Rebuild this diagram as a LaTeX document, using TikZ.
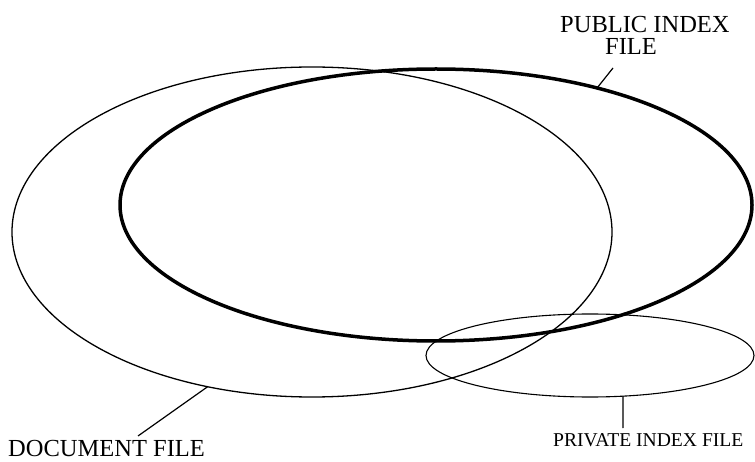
\documentclass[tikz,border=0pt]{standalone}
\usepackage{fontspec}
\setmainfont{Liberation Serif}
\usetikzlibrary{shapes.geometric}
\begin{document}
\begin{tikzpicture}[x=1pt,y=-1pt,
  setring/.style={ellipse,draw=black,inner sep=0pt,outer sep=0pt},
  leader/.style={draw=black,line width=1.2pt},
  biglabel/.style={inner sep=0pt,font=\fontsize{24.5}{22}\selectfont},
  smalllabel/.style={inner sep=0pt,font=\fontsize{19.6}{20}\selectfont}]
\useasboundingbox (0,0) rectangle (755,462);
% sets
\node[setring,line width=1.3pt,minimum width=600pt,minimum height=330pt] (doc) at (312,232) {};
\node[setring,line width=3.5pt,minimum width=632pt,minimum height=272pt] (pub) at (436,205) {};
\node[setring,line width=1.1pt,minimum width=328pt,minimum height=83pt] (priv) at (590,355.5) {};
% labels
\node[biglabel,anchor=base west,align=left] (publbl) at (560,55) {PUBLIC INDEX\\\hspace*{45pt}FILE};
\node[biglabel,anchor=base west] (doclbl) at (8,456.5) {DOCUMENT FILE};
\node[smalllabel,anchor=base west] (privlbl) at (553,446) {PRIVATE INDEX FILE};
% leader ends
\coordinate (pubend) at (613,68);
\coordinate (docend) at (138,436);
\coordinate (privend) at (623,428);
% leaders
\draw[leader] (pub.36.6) -- (pubend);
\draw[leader] (doc.236) -- (docend);
\draw[leader] (priv.309) -- (privend);
\end{tikzpicture}
\end{document}
